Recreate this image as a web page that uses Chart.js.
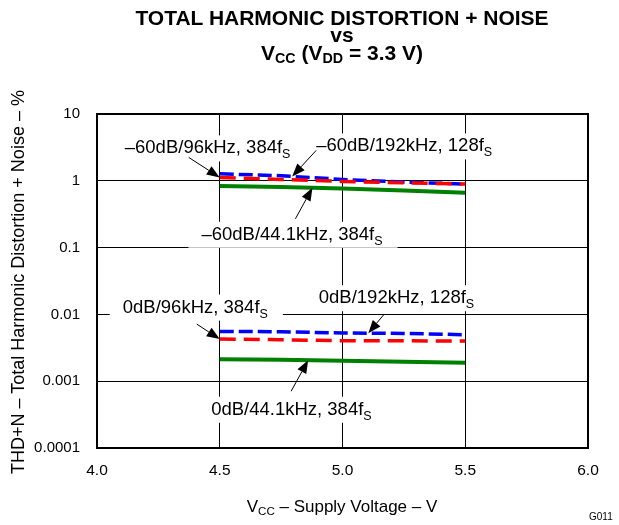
<!DOCTYPE html>
<html lang="en">
<head>
  <meta charset="UTF-8" />
  <title>THD+N vs VCC</title>
  <script src="https://cdn.jsdelivr.net/npm/chart.js"></script>
  <style>
    * { margin: 0; padding: 0; box-sizing: border-box; }
    body { background: #fff; font-family: "Liberation Sans", Arial, sans-serif; color: #000; }

    #wrap { position: relative; width: 619px; height: 525px; overflow: hidden; background: #fff; }
    #thdChart { position: absolute; left: 0; top: 0; }

    .title {
      position: absolute; left: 92px; width: 500px; text-align: center;
      font-weight: bold; font-size: 21px; line-height: 21px; white-space: nowrap;
    }
    .l1 { top: 7px; }
    .l2 { top: 24px; }
    .l3 { top: 42px; }

    sub { font-size: 0.68em; vertical-align: -0.24em; line-height: 0; }

    .ytitle {
      position: absolute; left: 18px; top: 282px; width: 420px; height: 18px;
      margin-left: -210px; margin-top: -9px;
      font-size: 18px; line-height: 18px; text-align: center; white-space: nowrap;
      transform: rotate(-90deg);
    }
    .xtitle {
      position: absolute; left: 92px; width: 500px; top: 498px;
      font-size: 17px; line-height: 17px; text-align: center; white-space: nowrap;
    }
    .code { position: absolute; left: 589px; top: 512px; font-size: 10px; line-height: 10px; }
  </style>
</head>
<body>
  <div id="wrap">
    <canvas id="thdChart" width="619" height="525"></canvas>
    <div class="title l1">TOTAL HARMONIC DISTORTION + NOISE</div>
    <div class="title l2">vs</div>
    <div class="title l3">V<sub>CC</sub> (V<sub>DD</sub> = 3.3 V)</div>
    <div class="ytitle">THD+N – Total Harmonic Distortion + Noise – %</div>
    <div class="xtitle">V<sub>CC</sub> – Supply Voltage – V</div>
    <div class="code">G011</div>
  </div>

  <script>
    // supply voltage points (V)
    const vcc = [4.5, 4.75, 5.0, 5.25, 5.5];

    // THD+N in %
    const thdM60_44k  = [0.833, 0.805, 0.769, 0.718, 0.662];
    const thdM60_96k  = [1.123, 1.048, 0.979, 0.934, 0.893];
    const thdM60_192k = [1.274, 1.190, 1.048, 0.956, 0.893];
    const thd0_44k    = [0.00214, 0.00209, 0.00202, 0.00195, 0.00189];
    const thd0_96k    = [0.00427, 0.00418, 0.00403, 0.00403, 0.00399];
    const thd0_192k   = [0.00557, 0.00550, 0.00526, 0.00519, 0.00496];

    const xTicks = [4.0, 4.5, 5.0, 5.5, 6.0];
    const xTickLabels = ['4.0', '4.5', '5.0', '5.5', '6.0'];
    const yTicks = [0.0001, 0.001, 0.01, 0.1, 1, 10];
    const yTickLabels = ['0.0001', '0.001', '0.01', '0.1', '1', '10'];

    const FONT = '"Liberation Sans", Arial, sans-serif';
    const GREEN = '#008000', RED = '#ff0000', BLUE = '#0000ff';

    function series(values) {
      return vcc.map((v, i) => ({ x: v, y: values[i] }));
    }

    // callouts: dataset, segment + fraction for the arrow tip,
    // tail offset and text position relative to that tip
    const callouts = [
      { ds: 1, seg: 0, t: 0,    tail: [-31, -20],   at: [-95, -24],   text: '–60dB/96kHz, 384f' },
      { ds: 2, seg: 1, t: 0.18, tail: [24, -26],    at: [24, -25],    text: '–60dB/192kHz, 128f' },
      { ds: 0, seg: 1, t: 0.51, tail: [-17, 31],    at: [-111, 52],   text: '–60dB/44.1kHz, 384f' },
      { ds: 4, seg: 0, t: 0,    tail: [-23, -15],   at: [-97, -26.5], text: '0dB/96kHz, 384f' },
      { ds: 5, seg: 2, t: 0.42, tail: [15.5, -18.5],at: [-49.5, -30], text: '0dB/192kHz, 128f' },
      { ds: 3, seg: 1, t: 0.44, tail: [-17, 31],    at: [-97, 54.5],  text: '0dB/44.1kHz, 384f' }
    ];

    const calloutPlugin = {
      id: 'callouts',
      afterDraw(chart) {
        const ctx = chart.ctx;
        const a = chart.chartArea;
        ctx.save();

        // plot frame
        ctx.strokeStyle = '#000';
        ctx.lineWidth = 2;
        ctx.strokeRect(a.left, a.top, a.right - a.left, a.bottom - a.top);

        callouts.forEach(c => {
          const pts = chart.getDatasetMeta(c.ds).data;
          const p0 = pts[c.seg], p1 = pts[c.seg + 1];
          const tx = p0.x + (p1.x - p0.x) * c.t;
          const ty = p0.y + (p1.y - p0.y) * c.t;

          const lx = tx + c.at[0], ly = ty + c.at[1];
          ctx.font = '18.5px ' + FONT;
          const w1 = ctx.measureText(c.text).width;
          ctx.font = '12.5px ' + FONT;
          const w2 = ctx.measureText('S').width;

          // white box hides grid lines behind the text
          ctx.fillStyle = '#fff';
          ctx.fillRect(lx - 13, ly - 18, w1 + w2 + 28, 26);

          ctx.fillStyle = '#000';
          ctx.textBaseline = 'alphabetic';
          ctx.textAlign = 'left';
          ctx.font = '18.5px ' + FONT;
          ctx.fillText(c.text, lx, ly);
          ctx.font = '12.5px ' + FONT;
          ctx.fillText('S', lx + w1, ly + 5);

          // arrow
          const ex = tx + c.tail[0], ey = ty + c.tail[1];
          const ang = Math.atan2(ty - ey, tx - ex);
          const hl = 13, hw = 5;
          const bx = tx - hl * Math.cos(ang), by = ty - hl * Math.sin(ang);
          ctx.strokeStyle = '#000';
          ctx.lineWidth = 1;
          ctx.beginPath();
          ctx.moveTo(ex, ey);
          ctx.lineTo(bx, by);
          ctx.stroke();
          ctx.beginPath();
          ctx.moveTo(tx, ty);
          ctx.lineTo(bx + hw * Math.sin(ang), by - hw * Math.cos(ang));
          ctx.lineTo(bx - hw * Math.sin(ang), by + hw * Math.cos(ang));
          ctx.closePath();
          ctx.fill();
        });
        ctx.restore();
      }
    };

    function line(values, color, dash, width, order) {
      return {
        data: series(values),
        borderColor: color,
        borderWidth: width,
        borderDash: dash,
        pointRadius: 0,
        fill: false,
        tension: 0,
        order: order
      };
    }

    new Chart(document.getElementById('thdChart'), {
      type: 'line',
      data: {
        datasets: [
          line(thdM60_44k, GREEN, [], 4, 2),
          line(thdM60_96k, RED, [16, 8], 3.5, 0),
          line(thdM60_192k, BLUE, [14, 5], 3.5, 1),
          line(thd0_44k, GREEN, [], 4, 2),
          line(thd0_96k, RED, [16, 8], 3.5, 0),
          line(thd0_192k, BLUE, [14, 5], 3.5, 1)
        ]
      },
      options: {
        responsive: false,
        animation: false,
        devicePixelRatio: 1,
        layout: { padding: { top: 114, right: 31, left: 0, bottom: 0 } },
        plugins: { legend: { display: false }, tooltip: { enabled: false } },
        scales: {
          x: {
            type: 'linear',
            min: 4, max: 6,
            afterBuildTicks: s => { s.ticks = xTicks.map(v => ({ value: v })); },
            afterFit: s => { s.height = 77; },
            grid: { color: '#000', lineWidth: 1, drawTicks: false },
            border: { display: false },
            ticks: {
              padding: 13,
              color: '#000',
              font: { family: FONT, size: 15.5 },
              callback: (v, i) => xTickLabels[i]
            }
          },
          y: {
            type: 'logarithmic',
            min: 0.0001, max: 10,
            afterBuildTicks: s => { s.ticks = yTicks.map(v => ({ value: v })); },
            afterFit: s => { s.width = 97; },
            grid: { color: '#000', lineWidth: 1, drawTicks: false },
            border: { display: false },
            ticks: {
              padding: 17,
              color: '#000',
              font: { family: FONT, size: 15 },
              callback: (v, i) => yTickLabels[i]
            }
          }
        }
      },
      plugins: [calloutPlugin]
    });
  </script>
</body>
</html>
